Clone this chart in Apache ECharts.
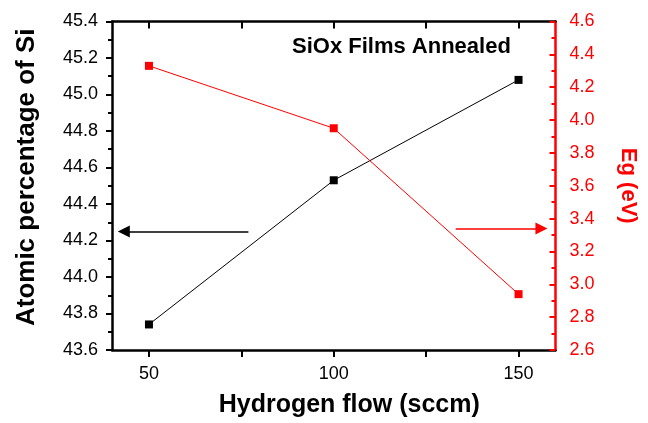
<!DOCTYPE html>
<html>
<head>
<meta charset="utf-8">
<script src="https://cdn.jsdelivr.net/npm/echarts@6/dist/echarts.min.js"></script>
<style>
  html, body { margin: 0; padding: 0; background: #fff; }
  #chart { width: 648px; height: 423px; }
</style>
</head>
<body>
<div id="chart"></div>
<script>
// Hydrogen flow settings (sccm)
const flow = [50, 100, 150];
// Atomic percentage of Si (left axis)
const siPercent = [43.74, 44.53, 45.08];
// Optical band gap Eg in eV (right axis)
const bandGap = [4.33, 3.95, 2.94];

// Axis tick positions and labels
const flowTicks = [50, 75, 100, 125, 150];
const flowLabels = [50, 100, 150];

// Arrows pointing each curve to its axis: [x, y] start and end in data units
const siArrow = [[76.9, 44.25], [43.2, 44.25]];
const egArrow = [[133, 3.34], [156.2, 3.34]];

const FONT = "Arial, 'Liberation Sans', sans-serif";
const RED = '#ff0000';

const chart = echarts.init(document.getElementById('chart'), null, { renderer: 'canvas' });

const toPairs = (xs, ys) => xs.map((x, i) => [x, ys[i]]);

chart.setOption({
  animation: false,
  backgroundColor: '#fff',
  title: {
    text: 'SiOx Films Annealed',
    left: 292,
    top: 36,
    padding: 0,
    textStyle: { fontFamily: FONT, fontSize: 22, fontWeight: 'bold', color: '#000' }
  },
  grid: { left: 112, right: 92.5, top: 21.5, bottom: 70.7, containLabel: false },
  xAxis: [
    {
      type: 'value',
      position: 'bottom',
      min: 40,
      max: 160,
      splitLine: { show: false },
      axisLine: { show: true, onZero: false, lineStyle: { color: '#000', width: 2.5 } },
      axisTick: { show: true, inside: false, length: 7, customValues: flowTicks, lineStyle: { color: '#000', width: 2 } },
      axisLabel: { customValues: flowLabels, margin: 15, fontFamily: FONT, fontSize: 18, color: '#000' },
      name: 'Hydrogen flow (sccm)',
      nameLocation: 'middle',
      nameGap: 43,
      nameTextStyle: {
        fontFamily: FONT, fontSize: 25, fontWeight: 'bold', color: '#000',
        padding: [0, 0, 0, 31]
      }
    },
    {
      type: 'value',
      position: 'top',
      min: 40,
      max: 160,
      splitLine: { show: false },
      axisLine: { show: true, onZero: false, lineStyle: { color: '#000', width: 2.5 } },
      axisTick: { show: true, inside: true, length: 7, customValues: flowTicks, lineStyle: { color: '#000', width: 2 } },
      axisLabel: { show: false }
    }
  ],
  yAxis: [
    {
      type: 'value',
      position: 'left',
      min: 43.6,
      max: 45.4,
      interval: 0.2,
      splitLine: { show: false },
      axisLine: { show: true, onZero: false, lineStyle: { color: '#000', width: 2.5 } },
      axisTick: { show: true, inside: false, length: 6, lineStyle: { color: '#000', width: 2 } },
      minorTick: { show: true, splitNumber: 2, length: 4, lineStyle: { color: '#000', width: 2 } },
      axisLabel: {
        margin: 14, fontFamily: FONT, fontSize: 18, color: '#000',
        formatter: v => v.toFixed(1)
      },
      name: 'Atomic percentage of Si',
      nameLocation: 'middle',
      nameGap: 72,
      nameRotate: 90,
      nameTextStyle: {
        fontFamily: FONT, fontSize: 26, fontWeight: 'bold', color: '#000',
        padding: [0, 0, 0, 17]
      }
    },
    {
      type: 'value',
      position: 'right',
      min: 2.6,
      max: 4.6,
      interval: 0.2,
      splitLine: { show: false },
      axisLine: { show: true, onZero: false, lineStyle: { color: RED, width: 2.5 } },
      axisTick: { show: true, inside: true, length: 6, lineStyle: { color: RED, width: 2 } },
      minorTick: { show: true, splitNumber: 2, length: 4, lineStyle: { color: RED, width: 2 } },
      axisLabel: {
        margin: 14, fontFamily: FONT, fontSize: 18, color: RED,
        formatter: v => v.toFixed(1)
      },
      name: 'Eg (eV)',
      nameLocation: 'middle',
      nameGap: 62,
      nameRotate: -90,
      nameTextStyle: { fontFamily: FONT, fontSize: 22, fontWeight: 'bold', color: RED }
    }
  ],
  series: [
    {
      name: 'Si',
      type: 'line',
      xAxisIndex: 0,
      yAxisIndex: 0,
      data: toPairs(flow, siPercent),
      symbol: 'rect',
      symbolSize: 8,
      lineStyle: { color: '#000', width: 1 },
      itemStyle: { color: '#000' },
      emphasis: { disabled: true },
      markLine: {
        silent: true,
        symbol: ['none', 'triangle'],
        symbolSize: [12, 12],
        label: { show: false },
        lineStyle: { color: '#000', width: 1.5, type: 'solid' },
        data: [[{ coord: siArrow[0] }, { coord: siArrow[1] }]]
      }
    },
    {
      name: 'Eg',
      type: 'line',
      xAxisIndex: 0,
      yAxisIndex: 1,
      data: toPairs(flow, bandGap),
      symbol: 'rect',
      symbolSize: 8,
      lineStyle: { color: RED, width: 1 },
      itemStyle: { color: RED },
      emphasis: { disabled: true },
      markLine: {
        silent: true,
        symbol: ['none', 'triangle'],
        symbolSize: [12, 12],
        label: { show: false },
        lineStyle: { color: RED, width: 1.5, type: 'solid' },
        data: [[{ coord: egArrow[0] }, { coord: egArrow[1] }]]
      }
    }
  ]
});
</script>
</body>
</html>
